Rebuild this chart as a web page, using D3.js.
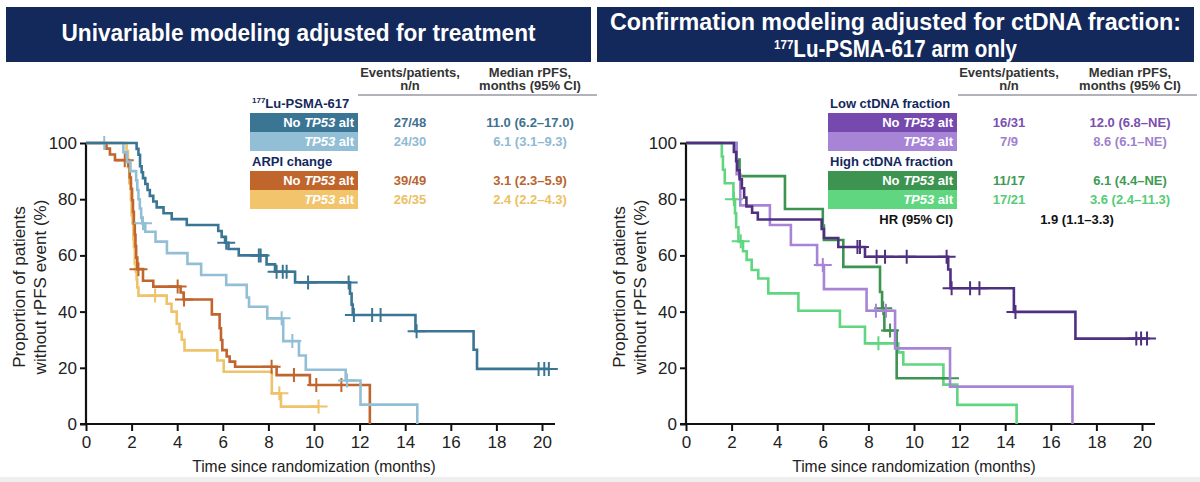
<!DOCTYPE html>
<html>
<head>
<meta charset="utf-8">
<script src="https://cdn.jsdelivr.net/npm/d3@7"></script>
<style>
  body { margin: 0; background: #fff; }
  svg { display: block; }
</style>
</head>
<body>
<svg id="chart" width="1200" height="482"></svg>
<script>
// Axis ticks
const xTicks = [0, 2, 4, 6, 8, 10, 12, 14, 16, 18, 20];
const yTicks = [0, 20, 40, 60, 80, 100];

// Left panel: [month, % without event] step points, and censor times
const luNoTp53Steps = [[0,100],[2.22,97.9],[2.3,95.8],[2.37,91.7],[2.44,89.6],[2.5,87.5],[2.6,85.4],[2.7,83.3],[2.8,81.2],[2.95,79.2],[3.1,77.1],[3.4,75.0],[3.76,72.9],[4.42,70.8],[5.8,68.7],[5.95,66.6],[6.1,64.5],[6.25,62.3],[6.7,60.0],[7.92,56.8],[8.29,54.2],[9.17,50.4],[11.58,46.4],[11.65,42.5],[11.7,38.8],[14.45,33.0],[17.0,26.4],[17.15,19.6]];
const luNoTp53Censor = [6.15, 7.58, 7.66, 8.36, 8.63, 8.8, 9.74, 11.52, 11.75, 12.55, 12.92, 14.5, 19.85, 20.1, 20.3];

const luTp53Steps = [[0,100],[1.64,96.7],[1.8,93.3],[1.95,90.0],[2.2,86.7],[2.25,83.3],[2.3,80.0],[2.36,76.7],[2.42,73.3],[2.47,71.4],[2.6,68.4],[3.05,64.9],[3.55,60.8],[4.45,57.0],[5.05,53.0],[6.15,49.5],[7.05,45.0],[7.15,41.7],[7.95,37.6],[8.65,29.5],[9.34,24.4],[9.64,19.3],[11.39,15.5],[12.04,6.9],[14.53,0]];
const luTp53Censor = [0.8, 2.5, 8.58, 9.05, 11.45];

const arpiNoTp53Steps = [[0,100],[0.9,98.0],[1.05,95.9],[1.27,93.9],[1.86,91.8],[1.92,87.7],[1.97,83.7],[2.02,79.6],[2.06,75.5],[2.1,71.4],[2.14,67.3],[2.17,63.3],[2.2,59.2],[2.25,55.1],[2.5,51.0],[2.95,48.9],[4.15,46.8],[4.28,44.3],[5.52,39.0],[5.86,34.1],[5.92,29.9],[5.98,26.3],[6.17,24.0],[6.3,22.2],[6.54,20.4],[8.36,17.4],[9.82,13.9],[12.45,0]];
const arpiNoTp53Censor = [1.7, 2.3, 4.02, 4.3, 8.14, 9.12, 10.1, 11.2];

const arpiTp53Steps = [[0,100],[1.78,97.1],[1.84,91.4],[1.9,85.7],[1.97,80.0],[2.0,74.3],[2.04,71.4],[2.08,65.7],[2.1,62.9],[2.14,57.1],[2.18,54.3],[2.22,51.4],[2.25,48.6],[2.3,45.7],[3.54,42.8],[3.75,40.0],[3.98,35.7],[4.1,32.8],[4.2,30.0],[4.32,26.2],[5.76,22.6],[6.04,18.6],[8.15,10.9],[8.55,6.2]];
const arpiTp53Censor = [3.03, 8.48, 10.2];

// Right panel
const lowNoTp53Steps = [[0,100],[2.1,96.8],[2.2,93.5],[2.25,90.3],[2.35,87.1],[2.45,83.9],[2.55,80.6],[2.65,77.4],[2.9,75.2],[3.15,72.8],[5.95,69.4],[6.05,66.2],[6.68,63.0],[7.85,59.5],[11.5,55.0],[11.6,48.3],[14.38,39.9],[17.08,30.4]];
const lowNoTp53Censor = [7.52, 7.63, 8.36, 8.73, 9.68, 11.43, 11.65, 12.46, 12.87, 14.45, 19.75, 19.96, 20.22];

const lowTp53Steps = [[0,100],[2.22,88.9],[2.38,77.8],[3.68,70.8],[4.6,63.7],[5.75,56.6],[6.05,48.0],[7.92,40.3],[9.17,26.9],[11.58,13.3],[16.95,0]];
const lowTp53Censor = [6.0, 8.33, 8.77];

const highNoTp53Steps = [[0,100],[2.22,94.1],[2.35,88.2],[4.34,76.5],[6.0,70.6],[6.05,65.5],[6.9,55.9],[8.51,47.0],[8.6,41.2],[8.7,33.3],[9.24,16.3]];
const highNoTp53Censor = [8.65, 8.95, 11.58];

const highTp53Steps = [[0,100],[1.57,95.2],[1.62,90.5],[1.7,85.7],[2.08,80.0],[2.15,75.0],[2.2,70.0],[2.3,65.0],[2.5,61.5],[2.66,58.4],[2.88,54.8],[3.17,51.8],[3.61,46.5],[4.93,40.3],[6.75,34.6],[7.85,28.7],[9.31,25.5],[9.53,21.2],[11.29,14.0],[11.9,6.8],[14.5,0]];
const highTp53Censor = [2.1, 2.4, 8.44];

// Tables
const leftGroups = ["Lu-PSMA-617", "ARPI change"];
const leftEvents = ["27/48", "24/30", "39/49", "26/35"];
const leftMedians = ["11.0 (6.2–17.0)", "6.1 (3.1–9.3)", "3.1 (2.3–5.9)", "2.4 (2.2–4.3)"];
const rightGroups = ["Low ctDNA fraction", "High ctDNA fraction"];
const rightEvents = ["16/31", "7/9", "11/17", "17/21"];
const rightMedians = ["12.0 (6.8–NE)", "8.6 (6.1–NE)", "6.1 (4.4–NE)", "3.6 (2.4–11.3)"];
const hazardRatio = "1.9 (1.1–3.3)";
const rowAltered = [false, true, false, true];

const font = "'Liberation Sans',Arial,sans-serif";
const navy = "#13285b";

const svg = d3.select("#chart");

// squeeze a text horizontally (the reference uses a narrow typeface)
function condense(sel, k) {
  const len = sel.node().getComputedTextLength();
  sel.attr("textLength", len * k).attr("lengthAdjust", "spacingAndGlyphs");
  return sel;
}

// Header boxes
function header(x, w, lines) {
  svg.append("rect")
    .attr("x", x).attr("y", 7).attr("width", w).attr("height", 55)
    .attr("fill", navy);
  lines.forEach(l => {
    const t = svg.append("text")
      .attr("x", x + w / 2).attr("y", l.y)
      .attr("text-anchor", "middle")
      .style("font-family", font).style("font-weight", "bold")
      .style("font-size", l.size + "px").style("fill", "#fff");
    if (l.sup) {
      t.append("tspan").style("font-size", "13px").attr("dy", "-8").text(l.sup);
      t.append("tspan").attr("dy", "8").text(l.text);
    } else {
      t.text(l.text);
    }
    t.attr("textLength", l.width).attr("lengthAdjust", "spacingAndGlyphs");
  });
}
header(6, 585, [{ text: "Univariable modeling adjusted for treatment", y: 41, size: 24, width: 474 }]);
header(597, 597, [
  { text: "Confirmation modeling adjusted for ctDNA fraction:", y: 30, size: 23, width: 571 },
  { sup: "177", text: "Lu-PSMA-617 arm only", y: 57, size: 23, width: 243 }
]);

function valueAt(steps, t) {
  let v = steps[0][1];
  for (const s of steps) if (s[0] <= t) v = s[1];
  return v;
}

function drawPanel(p) {
  const x = d3.scaleLinear().domain([0, 20]).range([p.x0, p.x0 + 456]);
  const y = d3.scaleLinear().domain([0, 100]).range([424, 143]);
  const g = svg.append("g");

  // axes
  const xAxis = g.append("g").attr("transform", "translate(0,424)")
    .call(d3.axisBottom(x).tickValues(xTicks).tickSize(7).tickPadding(5));
  xAxis.select(".domain").remove();
  const yAxis = g.append("g").attr("transform", `translate(${p.x0},0)`)
    .call(d3.axisLeft(y).tickValues(yTicks).tickSize(6).tickPadding(3));
  yAxis.select(".domain").remove();
  [xAxis, yAxis].forEach(a => {
    a.selectAll("line").attr("stroke", "#111").attr("stroke-width", 2);
    a.selectAll("text").style("font-family", font).style("font-size", "17px").style("fill", "#222");
  });
  g.append("line").attr("x1", p.x0 - 6).attr("x2", p.x0 + 469)
    .attr("y1", 424).attr("y2", 424).attr("stroke", "#111").attr("stroke-width", 2.2);
  g.append("line").attr("x1", p.x0).attr("x2", p.x0)
    .attr("y1", 143).attr("y2", 424).attr("stroke", "#111").attr("stroke-width", 2.2);

  const xt = g.append("text").attr("x", p.x0 + 228).attr("y", 472).attr("text-anchor", "middle")
    .style("font-family", font).style("font-size", "17px").style("fill", "#222")
    .text("Time since randomization (months)");
  condense(xt, 0.92);
  const yt = g.append("text").attr("transform", `translate(${p.x0 - 61},287) rotate(-90)`)
    .attr("text-anchor", "middle")
    .style("font-family", font).style("font-size", "17px").style("fill", "#222");
  yt.append("tspan").attr("x", 0).attr("y", 0).text("Proportion of patients");
  yt.append("tspan").attr("x", 0).attr("y", 21).text("without rPFS event (%)");

  // curves
  const line = d3.line().x(d => x(d[0])).y(d => y(d[1])).curve(d3.curveStepAfter);
  p.series.forEach(s => {
    const last = s.steps[s.steps.length - 1];
    const end = Math.max(last[0], d3.max(s.censor));
    const pts = s.steps.concat([[end, last[1]]]);
    g.append("path").datum(pts).attr("d", line)
      .attr("fill", "none").attr("stroke", s.line).attr("stroke-width", 2.6);
    g.selectAll(null).data(s.censor).enter().append("path")
      .attr("d", t => {
        const cx = x(t), cy = y(valueAt(s.steps, t));
        return `M${cx - 9},${cy}H${cx + 9}M${cx},${cy - 7}V${cy + 7}`;
      })
      .attr("stroke", s.line).attr("stroke-width", 2).attr("fill", "none");
  });

  // table
  const tb = p.table;
  const txt = (sel, xx, yy, anchor) => sel.append("text").attr("x", xx).attr("y", yy)
    .attr("text-anchor", anchor).style("font-family", font).style("font-size", "13px");
  [["Events/patients,", "n/n", tb.evX], ["Median rPFS,", "months (95% CI)", tb.medX]].forEach(h => {
    txt(g, h[2], 77, "middle").style("fill", "#333").style("font-weight", "bold").text(h[0]);
    txt(g, h[2], 90, "middle").style("fill", "#333").style("font-weight", "bold").text(h[1]);
  });
  g.append("line").attr("x1", tb.ruleX1).attr("x2", tb.ruleX2).attr("y1", 95).attr("y2", 95)
    .attr("stroke", "#667").attr("stroke-width", 1.2);

  tb.groups.forEach((name, i) => {
    const t = txt(g, tb.boxX + 2, [108, 166][i], "start")
      .style("fill", navy).style("font-weight", "bold");
    if (tb.supFirst && i === 0) {
      t.append("tspan").style("font-size", "8px").attr("dy", "-5").text("177");
      t.append("tspan").attr("dy", "5").text(name);
    } else t.text(name);
  });

  const rowTop = [113, 132, 171, 190];
  p.series.slice().reverse().forEach((s, i) => {
    g.append("rect").attr("x", tb.boxX).attr("y", rowTop[i]).attr("width", tb.boxW).attr("height", 19)
      .attr("fill", s.box);
    const lab = txt(g, tb.boxX + tb.boxW - 4, rowTop[i] + 14, "end")
      .style("fill", "#fff").style("font-weight", "bold");
    if (!rowAltered[i]) lab.append("tspan").text("No ");
    lab.append("tspan").style("font-style", "italic").text("TP53");
    lab.append("tspan").text(" alt");
    txt(g, tb.evX, rowTop[i] + 14, "middle").style("fill", s.text).style("font-weight", "bold").text(tb.events[i]);
    txt(g, tb.medX, rowTop[i] + 14, "middle").style("fill", s.text).style("font-weight", "bold").text(tb.medians[i]);
  });
  if (tb.hr) {
    txt(g, tb.boxX + tb.boxW - 4, 224, "end").style("fill", "#111").style("font-weight", "bold").text("HR (95% CI)");
    txt(g, tb.hrX, 224, "middle").style("fill", "#111").style("font-weight", "bold").text(tb.hr);
  }
}

// series listed in drawing order (bottom first); table rows are the reverse
drawPanel({
  x0: 86,
  series: [
    { steps: arpiTp53Steps, censor: arpiTp53Censor, line: "#efc36a", box: "#f2c46b", text: "#ecc063" },
    { steps: arpiNoTp53Steps, censor: arpiNoTp53Censor, line: "#c0652c", box: "#c0652c", text: "#b8652f" },
    { steps: luTp53Steps, censor: luTp53Censor, line: "#92bfd6", box: "#92bfd6", text: "#8fbad2" },
    { steps: luNoTp53Steps, censor: luNoTp53Censor, line: "#3b7594", box: "#3b7594", text: "#3f7290" }
  ],
  table: { boxX: 250, boxW: 108, evX: 410, medX: 530, ruleX1: 358, ruleX2: 597,
           groups: leftGroups, supFirst: true, events: leftEvents, medians: leftMedians }
});

drawPanel({
  x0: 686,
  series: [
    { steps: highTp53Steps, censor: highTp53Censor, line: "#5fd67f", box: "#5fd67f", text: "#55cc75" },
    { steps: highNoTp53Steps, censor: highNoTp53Censor, line: "#3d9350", box: "#3d9450", text: "#3f9a55" },
    { steps: lowTp53Steps, censor: lowTp53Censor, line: "#a884d6", box: "#a884d6", text: "#a17fd0" },
    { steps: lowNoTp53Steps, censor: lowNoTp53Censor, line: "#4f2f80", box: "#7649ae", text: "#7a4fb0" }
  ],
  table: { boxX: 828, boxW: 129, evX: 1009, medX: 1130, ruleX1: 958, ruleX2: 1197,
           groups: rightGroups, supFirst: false, events: rightEvents, medians: rightMedians,
           hr: hazardRatio, hrX: 1077 }
});

svg.append("rect").attr("x", 0).attr("y", 477).attr("width", 1200).attr("height", 5).attr("fill", "#eeeeee");
</script>
</body>
</html>
